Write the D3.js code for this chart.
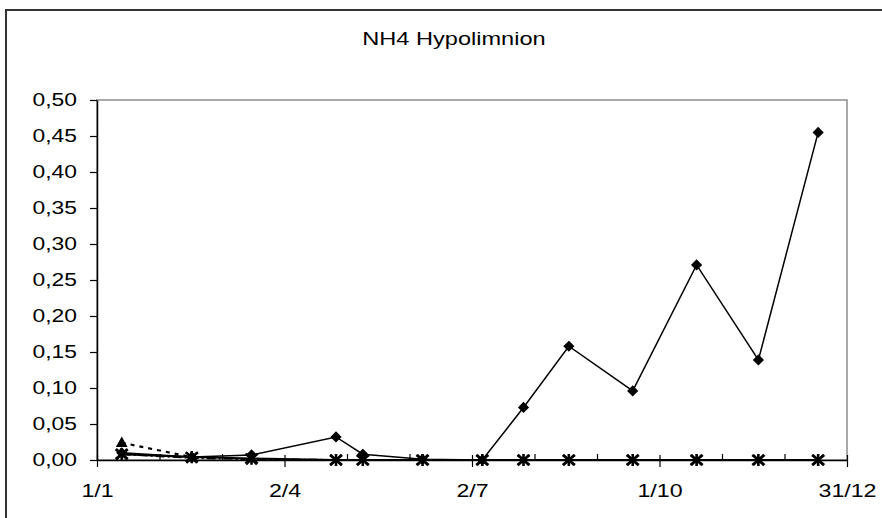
<!DOCTYPE html>
<html>
<head>
<meta charset="utf-8">
<script src="https://cdn.jsdelivr.net/npm/d3@7"></script>
<style>
  body { margin: 0; background: #fff; }
  svg { display: block; }
  text { font-family: "Liberation Sans", Arial, sans-serif; fill: #000; }
</style>
</head>
<body>
<svg id="chart" width="882" height="518"></svg>
<script>
// chart data
const chartTitle = "NH4 Hypolimnion";
const axisStart = "2001-01-01";
const axisEnd = "2001-12-31";
const sampleDates = ["2001-01-13", "2001-02-16", "2001-03-17", "2001-04-27", "2001-05-10",
  "2001-06-08", "2001-07-07", "2001-07-27", "2001-08-18", "2001-09-18",
  "2001-10-19", "2001-11-18", "2001-12-17"];
const diamondValues = [0.010, 0.004, 0.007, 0.032, 0.008, 0.001, 0.000, 0.073, 0.158, 0.096, 0.271, 0.139, 0.455];
const triangleValues = [0.024, 0.004];
const crossValues = [0.008, 0.003, 0.001, 0.000, 0.000, 0.000, 0.000, 0.000, 0.000, 0.000, 0.000, 0.000, 0.000];
const starValues = [0.008, 0.004, 0.002, 0.000, 0.000, 0.000, 0.000, 0.000, 0.000, 0.000, 0.000, 0.000, 0.000];
const yTickValues = [0, 0.05, 0.10, 0.15, 0.20, 0.25, 0.30, 0.35, 0.40, 0.45, 0.50];

const margin = { top: 100, right: 35, bottom: 58, left: 97 };
const svgSize = { width: 882, height: 518 };
const graphSize = {
  width: svgSize.width - margin.left - margin.right,
  height: svgSize.height - margin.top - margin.bottom,
};

const parse = d3.timeParse("%Y-%m-%d");
const start = parse(axisStart);
const end = parse(axisEnd);
const dates = sampleDates.map(parse);

const x = d3.scaleTime().domain([start, end]).range([0, graphSize.width]);
const y = d3.scaleLinear().domain([0, 0.5]).range([graphSize.height, 0]);

const svg = d3.select("#chart");

// stretch text horizontally like the original rendering
function stretch(sel, factor) {
  sel.each(function () {
    const len = this.getComputedTextLength();
    d3.select(this).attr("textLength", len * factor).attr("lengthAdjust", "spacingAndGlyphs");
  });
}

// outer chart frame (runs off the right / bottom of the picture)
svg.append("rect")
  .attr("x", 6).attr("y", 10)
  .attr("width", 920).attr("height", 540)
  .attr("fill", "none")
  .attr("stroke", "#333")
  .attr("stroke-width", 2);

// title
const t = svg.append("text")
  .attr("x", 454).attr("y", 45)
  .attr("text-anchor", "middle")
  .style("font-size", "19px")
  .text(chartTitle);
stretch(t, 1.24);

const g = svg.append("g")
  .attr("transform", "translate(" + margin.left + "," + margin.top + ")");

// plot area border
g.append("rect")
  .attr("width", graphSize.width).attr("height", graphSize.height)
  .attr("fill", "none")
  .attr("stroke", "#8c8c8c")
  .attr("stroke-width", 1.5);

// y axis
const yAxis = d3.axisLeft(y)
  .tickValues(yTickValues)
  .tickSizeInner(7).tickSizeOuter(0)
  .tickPadding(13)
  .tickFormat(d => d3.format(".2f")(d).replace(".", ","));
const ya = g.append("g").attr("class", "y axis").call(yAxis);
ya.selectAll("text").style("font-size", "18px");
stretch(ya.selectAll("text"), 1.27);

// x axis: 12 intervals, labels every third
const dayMs = 24 * 3600 * 1000;
const spanDays = (end - start) / dayMs;
const xTicks = d3.range(13).map(k => new Date(+start + k * spanDays / 12 * dayMs));
const fmt = d3.timeFormat("%-d/%-m");
const xAxis = d3.axisBottom(x)
  .tickValues(xTicks)
  .tickSizeInner(7).tickSizeOuter(0)
  .tickPadding(17)
  .tickFormat((d, i) => (i % 3 === 0 ? fmt(d) : ""));
const xa = g.append("g")
  .attr("class", "x axis")
  .attr("transform", "translate(0," + graphSize.height + ")")
  .call(xAxis);
xa.selectAll(".tick line")
  .attr("y1", (d, i) => (i % 3 === 0 ? -5 : -6))
  .attr("y2", (d, i) => (i % 3 === 0 ? 7 : 0));
xa.selectAll("text").style("font-size", "19px");
stretch(xa.selectAll("text"), 1.22);

[ya, xa].forEach(a => {
  a.select(".domain").attr("stroke", "#000").attr("stroke-width", 1.5);
  a.selectAll(".tick line").attr("stroke", "#000").attr("stroke-width", 1.2);
});

// marker shapes
const diamondType = { draw(c, s) { const r = Math.sqrt(s) / 2; c.moveTo(0, -r); c.lineTo(r, 0); c.lineTo(0, r); c.lineTo(-r, 0); c.closePath(); } };
const triangleType = { draw(c, s) { const r = Math.sqrt(s) / 2; c.moveTo(0, -r); c.lineTo(r, r * 0.8); c.lineTo(-r, r * 0.8); c.closePath(); } };
const crossType = { draw(c, s) { const r = Math.sqrt(s) / 2; c.moveTo(-r, -r); c.lineTo(r, r); c.moveTo(-r, r); c.lineTo(r, -r); } };
const starType = { draw(c, s) { const r = Math.sqrt(s) / 2; c.moveTo(-r, -r * 0.8); c.lineTo(r, r * 0.8); c.moveTo(-r, r * 0.8); c.lineTo(r, -r * 0.8); c.moveTo(0, -r); c.lineTo(0, r); } };

const series = [
  { values: crossValues, dash: "9,3,2,3", width: 2, type: crossType, size: 110, filled: false, mw: 2 },
  { values: triangleValues, dash: "4,5", width: 2.2, type: triangleType, size: 70, filled: true, mw: 2 },
  { values: starValues, dash: null, width: 2, type: starType, size: 150, filled: false, mw: 2.6 },
  { values: diamondValues, dash: null, width: 1.5, type: diamondType, size: 70, filled: true, mw: 2 },
];

const line = d3.line()
  .x(d => x(d.date))
  .y(d => y(d.value));

series.forEach(s => {
  const data = s.values.map((v, i) => ({ date: dates[i], value: v }));
  g.append("path")
    .datum(data)
    .attr("d", line)
    .attr("fill", "none")
    .attr("stroke", "#000")
    .attr("stroke-width", s.width)
    .attr("stroke-dasharray", s.dash);
  g.selectAll(null)
    .data(data)
    .enter()
    .append("path")
    .attr("d", d3.symbol().type(s.type).size(s.size))
    .attr("transform", d => "translate(" + x(d.date) + "," + y(d.value) + ")")
    .attr("fill", s.filled ? "#000" : "none")
    .attr("stroke", "#000")
    .attr("stroke-width", s.mw);
});
</script>
</body>
</html>
